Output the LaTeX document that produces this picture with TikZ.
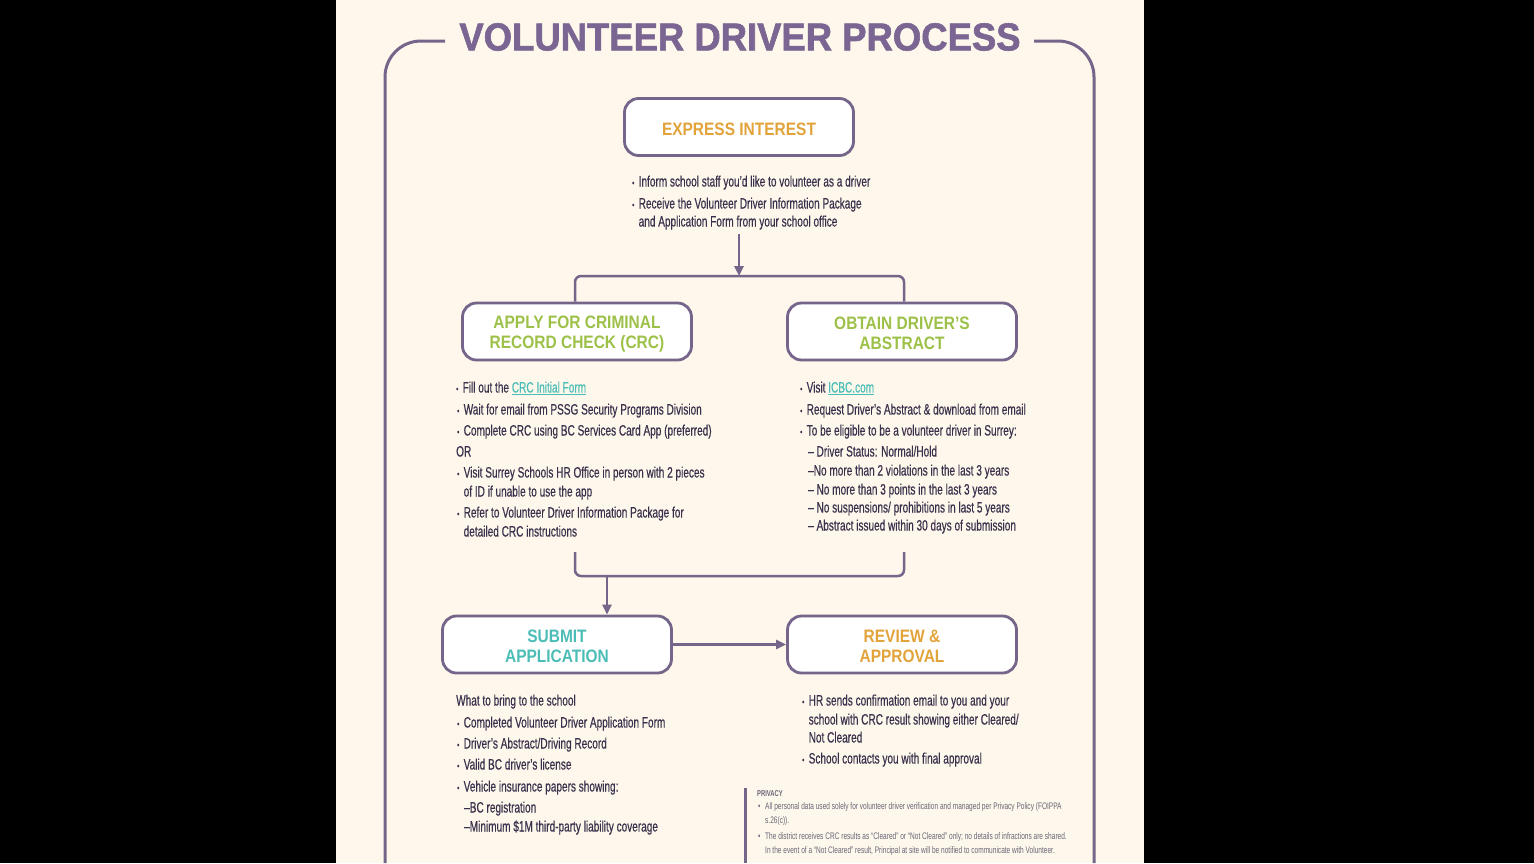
\documentclass[tikz,border=0pt]{standalone}
\usepackage{fontspec}
\usetikzlibrary{arrows.meta}
\setmainfont{Liberation Sans}
\newfontfamily\titlef[FakeStretch=0.935,FakeBold=1.5]{Liberation Sans}
\newfontfamily\headf[FakeStretch=0.86]{Liberation Sans}
\newfontfamily\bodyf[FakeStretch=0.67,FakeBold=0.4]{Liberation Sans}
\newfontfamily\smallf[FakeStretch=0.69]{Liberation Sans}
\definecolor{bgc}{HTML}{FDF8EB}
\definecolor{framec}{HTML}{75658A}
\definecolor{titlec}{HTML}{7B6592}
\definecolor{orangec}{HTML}{E2A33A}
\definecolor{greenc}{HTML}{9DC148}
\definecolor{tealc}{HTML}{4CBDB6}
\definecolor{txtc}{HTML}{3B2F4C}
\definecolor{privc}{HTML}{6E6478}
\newcommand\bl{\makebox[6.5pt][l]{\raisebox{0.5pt}{\fontsize{9}{9}\selectfont •}}}
\newcommand\lnk[1]{\textcolor{tealc}{\underline{#1}}}
\newcommand\dn{\rule{0pt}{17pt}}
\tikzset{
  box/.style={draw=framec, line width=2.8pt, fill=white, rounded corners=14pt,
    minimum width=229pt, minimum height=57pt, align=center, inner sep=0pt,
    font=\headf\bfseries\fontsize{18}{20}\selectfont},
  conn/.style={draw=framec, line width=2.5pt},
  tip/.style={-{Triangle[length=10pt,width=9pt]}},
  txt/.style={anchor=base west, inner sep=0pt, text=txtc, font=\bodyf\fontsize{15}{17}\selectfont},
  ptxt/.style={anchor=base west, inner sep=0pt, text=privc, font=\smallf\fontsize{9.5}{11}\selectfont},
}
\newcommand\tl[4]{\node[txt] (#1) at (#2,#3+5.5) {#4};}
\newcommand\pl[4]{\node[ptxt] (#1) at (#2,#3+3.5) {#4};}
\begin{document}
\begin{tikzpicture}[x=1pt,y=-1pt]
\fill[black] (0,0) rectangle (1534,863);
\useasboundingbox (0,0) rectangle (1534,863);
\fill[bgc] (336,0) rectangle (1144,863);
% frame
\draw[framec, line width=3pt, rounded corners=36pt] (445,41) -- (385,41) -- (385,863);
\draw[framec, line width=3pt, rounded corners=36pt] (1034,41) -- (1094,41) -- (1094,863);
\node[inner sep=0pt, text=titlec, font=\titlef\bfseries\fontsize{39}{40}\selectfont] (title) at (740,37) {VOLUNTEER DRIVER PROCESS};
% boxes
\node[box, text=orangec] (ei) at (739,127) {\dn EXPRESS INTEREST};
\node[box, text=greenc] (crc) at (577,331.5) {\dn APPLY FOR CRIMINAL\\RECORD CHECK (CRC)};
\node[box, text=greenc] (abs) at (902,331.5) {\dn OBTAIN DRIVER’S\\ABSTRACT};
\node[box, text=tealc] (sub) at (557,644.5) {\dn SUBMIT\\APPLICATION};
\node[box, text=orangec] (rev) at (902,644.5) {\dn REVIEW \&\\APPROVAL};
% connectors
\coordinate (a1) at (739,234);
\coordinate (split) at (739,276);
\draw[conn, tip] (a1) -- (split);
\draw[conn, rounded corners=6pt] ([xshift=-2pt]crc.north) |- (split) -| ([xshift=2pt]abs.north);
\coordinate (b1) at (575,552);
\coordinate (b2) at (904,552);
\coordinate (j) at (607,576);
\draw[conn, rounded corners=6pt] (b1) |- (j) -| (b2);
\draw[conn, tip] (j) -- (j |- sub.north);
\draw[conn, tip] (sub.east) -- (rev.west);
% express interest text
\tl{e1}{632}{181}{\bl Inform school staff you’d like to volunteer as a driver}
\tl{e2}{632}{203}{\bl Receive the Volunteer Driver Information Package}
\tl{e3}{638.5}{221}{and Application Form from your school office}
% CRC text
\tl{c1}{456}{387}{\bl Fill out the \lnk{CRC Initial Form}}
\tl{c2}{457}{409}{\bl Wait for email from PSSG Security Programs Division}
\tl{c3}{457}{430}{\bl Complete CRC using BC Services Card App (preferred)}
\tl{c4}{456}{451}{OR}
\tl{c5}{457}{472}{\bl Visit Surrey Schools HR Office in person with 2 pieces}
\tl{c6}{463.5}{491}{of ID if unable to use the app}
\tl{c7}{457}{512}{\bl Refer to Volunteer Driver Information Package for}
\tl{c8}{463.5}{531}{detailed CRC instructions}
% abstract text
\tl{d1}{800}{387}{\bl Visit \lnk{ICBC.com}}
\tl{d2}{800}{409}{\bl Request Driver’s Abstract \& download from email}
\tl{d3}{800}{430}{\bl To be eligible to be a volunteer driver in Surrey:}
\tl{d4}{808}{451}{– Driver Status: Normal/Hold}
\tl{d5}{808}{470}{–No more than 2 violations in the last 3 years}
\tl{d6}{808}{489}{– No more than 3 points in the last 3 years}
\tl{d7}{808}{507}{– No suspensions/ prohibitions in last 5 years}
\tl{d8}{808}{525}{– Abstract issued within 30 days of submission}
% submit text
\tl{s0}{456}{700}{What to bring to the school}
\tl{s1}{457}{722}{\bl Completed Volunteer Driver Application Form}
\tl{s2}{457}{743}{\bl Driver’s Abstract/Driving Record}
\tl{s3}{457}{764}{\bl Valid BC driver’s license}
\tl{s4}{457}{786}{\bl Vehicle insurance papers showing:}
\tl{s5}{464}{807}{–BC registration}
\tl{s6}{464}{826}{–Minimum \$1M third-party liability coverage}
% review text
\tl{r1}{802}{700}{\bl HR sends confirmation email to you and your}
\tl{r2}{808.5}{719}{school with CRC result showing either Cleared/}
\tl{r3}{808.5}{737}{Not Cleared}
\tl{r4}{802}{758}{\bl School contacts you with final approval}
% privacy
\draw[framec, line width=3pt] (745,788) -- (745,863);
\node[ptxt, font=\smallf\bfseries\fontsize{8.5}{10}\selectfont] (p0) at (757,796.5) {PRIVACY};
\pl{p1}{758}{806}{\makebox[7pt][l]{•}All personal data used solely for volunteer driver verification and managed per Privacy Policy (FOIPPA}
\pl{p2}{765}{820}{s.26(c)).}
\pl{p3}{758}{836}{\makebox[7pt][l]{•}The district receives CRC results as “Cleared” or “Not Cleared” only; no details of infractions are shared.}
\pl{p4}{765}{850}{In the event of a “Not Cleared” result, Principal at site will be notified to communicate with Volunteer.}
\end{tikzpicture}
\end{document}
